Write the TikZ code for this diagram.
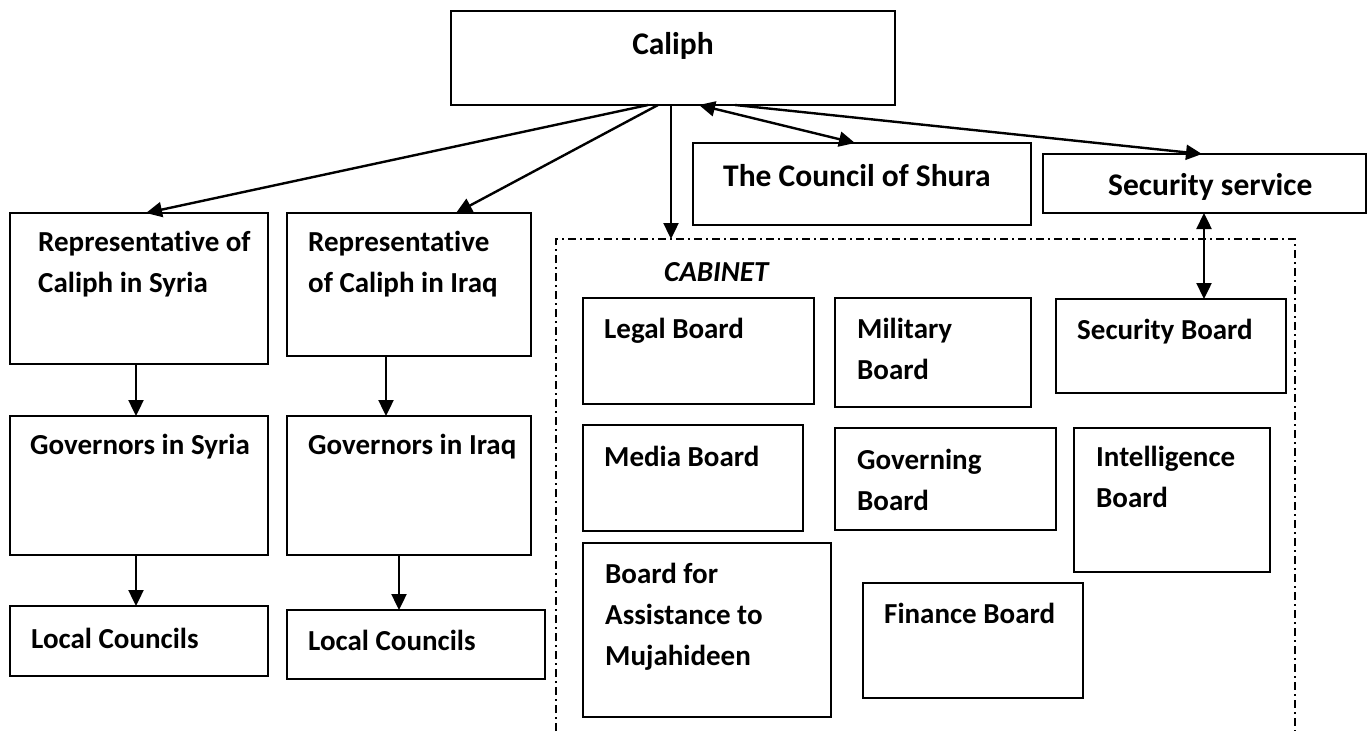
\documentclass[tikz,border=0pt]{standalone}
\usepackage{fontspec}
\setmainfont{Carlito}[Ligatures=NoCommon]
\usetikzlibrary{arrows.meta}
\newcommand\mkbox[5]{\node[box, minimum width={#4-#2}, minimum height={#5-#3}] (#1) at (#2,#3) {};}
\begin{document}
\begin{tikzpicture}[x=1pt,y=-1pt,
  box/.style={draw, line width=2pt, rectangle, inner sep=0pt, outer sep=0pt, anchor=north west},
  txt/.style={anchor=north west, inner sep=0pt, align=left, font=\fontsize{29}{41}\selectfont\bfseries, yshift=28.7pt},
  bigtxt/.style={txt, font=\fontsize{31.5}{41}\selectfont\bfseries},
  arr/.style={line width=2.4pt, -{Triangle[length=16pt,width=15pt]}},
  darr/.style={line width=2.4pt, {Triangle[length=16pt,width=15pt]}-{Triangle[length=16pt,width=15pt]}},
  cab/.style={line width=1.6pt, dash pattern=on 8pt off 4pt on 2pt off 4pt}]
\fill[white] (0,0) rectangle (1368,731);
\useasboundingbox (0,0) rectangle (1368,731);

% top level
\mkbox{caliph}{451}{11}{895}{105}
\node[bigtxt, anchor=north, align=center] (caliph-t) at (673,54) {\strut Caliph};
\mkbox{shura}{693}{143}{1031}{225}
\node[bigtxt] (shura-t) at (723,186) {\strut The Council of Shura};
\mkbox{secsvc}{1043}{154}{1366}{213}
\node[bigtxt] (secsvc-t) at (1108,195) {\strut Security service};

% Syria column
\mkbox{repsy}{10}{213}{268}{364}
\node[txt] (repsy-t) at (38,251) {\strut Representative of\\Caliph in Syria};
\mkbox{govsy}{10}{416}{268}{555}
\node[txt] (govsy-t) at (30,454) {\strut Governors in Syria};
\mkbox{locsy}{10}{606}{268}{676}
\node[txt] (locsy-t) at (31,648) {\strut Local Councils};

% Iraq column
\mkbox{repiq}{287}{213}{531}{356}
\node[txt] (repiq-t) at (308,251) {\strut Representative\\of Caliph in Iraq};
\mkbox{goviq}{287}{416}{531}{555}
\node[txt] (goviq-t) at (308,454) {\strut Governors in Iraq};
\mkbox{lociq}{287}{610}{545}{679}
\node[txt] (lociq-t) at (308,650) {\strut Local Councils};

% cabinet frame
\draw[cab] (556,731) -- (556,239) -- (1295,239) -- (1295,731);
\coordinate (cabtop) at (671,239);
\node[txt, font=\fontsize{29}{41}\selectfont\bfseries\itshape] (cab-t) at (664,281) {\strut CABINET};

\mkbox{legal}{583}{298}{814}{404}
\node[txt] (legal-t) at (604,338) {\strut Legal Board};
\mkbox{mil}{835}{298}{1031}{407}
\node[txt] (mil-t) at (857,338) {\strut Military\\Board};
\mkbox{secb}{1056}{299}{1286}{393}
\node[txt] (secb-t) at (1077,339) {\strut Security Board};
\mkbox{media}{583}{425}{803}{531}
\node[txt] (media-t) at (604,466) {\strut Media Board};
\mkbox{gov}{835}{428}{1056}{530}
\node[txt] (gov-t) at (857,469) {\strut Governing\\Board};
\mkbox{intel}{1074}{428}{1270}{572}
\node[txt] (intel-t) at (1096,466) {\strut Intelligence\\Board};
\mkbox{assist}{583}{543}{831}{717}
\node[txt] (assist-t) at (605,583) {\strut Board for\\Assistance to\\Mujahideen};
\mkbox{fin}{863}{583}{1083}{698}
\node[txt] (fin-t) at (884,623) {\strut Finance Board};

% connectors
\draw[arr] ([xshift=197pt]caliph.south west) -- ([xshift=136pt]repsy.north west);
\draw[arr] ([xshift=207pt]caliph.south west) -- ([xshift=169pt]repiq.north west);
\draw[arr] ([xshift=220pt]caliph.south west) -- (cabtop);
\draw[darr] ([xshift=248pt]caliph.south west) -- ([xshift=162pt]shura.north west);
\draw[arr] ([xshift=284pt]caliph.south west) -- ([xshift=159pt]secsvc.north west);
\draw[darr] ([xshift=161pt]secsvc.south west) -- ([xshift=148pt]secb.north west);

\draw[arr] ([xshift=126pt]repsy.south west) -- ([xshift=126pt]govsy.north west);
\draw[arr] ([xshift=126pt]govsy.south west) -- ([xshift=126pt]locsy.north west);
\draw[arr] ([xshift=99pt]repiq.south west) -- ([xshift=99pt]goviq.north west);
\draw[arr] ([xshift=112pt]goviq.south west) -- ([xshift=112pt]lociq.north west);
\end{tikzpicture}
\end{document}
